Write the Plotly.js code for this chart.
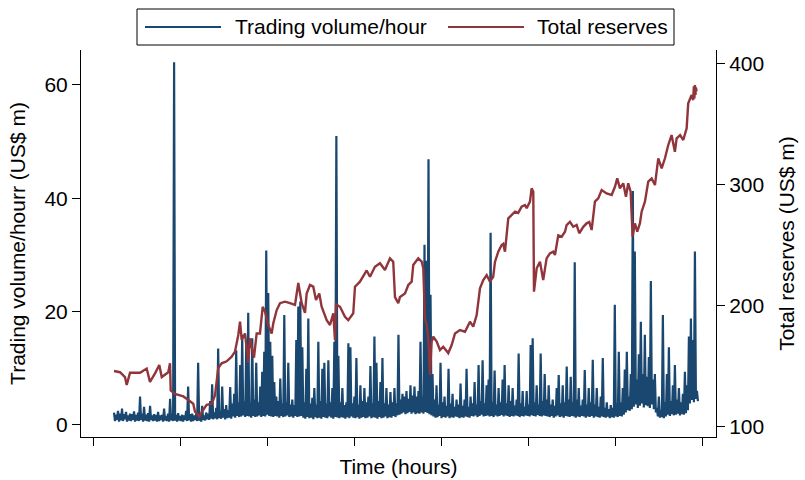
<!DOCTYPE html>
<html>
<head>
<meta charset="utf-8">
<script src="https://cdn.plot.ly/plotly-3.0.1.min.js"></script>
<style>html,body{margin:0;padding:0;background:#fff;}#chart{width:805px;height:480px;}</style>
</head>
<body>
<div id="chart"></div>
<script>
// ---- Data ----
// Trading volume per hour (US$ m). The hourly series is dense, so it is read as
// alternating local peaks and troughs: one peak every 23 hours starting at hour 241,
// each followed 11.5 hours later by the trough (lower edge of the band) there.
const volStartHour = 241;
const volStepHours = 23;
const volPeaks = [
  2.2,1.8,2.5,2.0,2.9,1.9,2.3,1.7,2.0,1.9,
  2.4,1.8,2.2,5.0,2.0,3.2,1.8,2.1,3.4,1.7,
  1.9,1.8,2.3,1.7,1.8,2.9,1.6,2.0,4.6,1.9,
  64,1.8,2.1,1.6,1.8,1.7,2.5,6.8,1.9,2.0,
  1.7,1.9,11.0,1.8,3.4,1.7,2.2,2.0,4.2,7.2,
  2.2,3.0,13.5,2.5,6.8,2.8,3.5,2.6,6.7,3.8,
  5.5,13.2,4.0,10.6,15.9,4.2,14.1,19.8,4.0,15.3,
  4.5,11.0,4.0,6.8,9.4,12.9,30.8,23.3,14.7,12.2,
  7.6,5.0,4.2,8.2,3.8,19.4,4.0,11.0,3.6,4.5,
  3.5,15.0,20.9,21.8,13.7,4.0,9.9,18.8,3.8,4.8,
  6.5,3.6,14.7,4.2,9.9,11.0,3.8,11.4,4.0,6.5,
  14.7,51.0,12.2,4.0,6.5,3.5,4.0,14.4,13.7,3.8,
  5.0,11.8,3.6,7.0,4.2,6.5,4.0,5.0,10.4,3.8,
  15.6,11.0,4.2,7.6,11.8,3.8,6.5,3.6,5.8,4.0,
  6.5,3.8,15.9,4.5,5.5,5.0,6.0,4.6,7.0,5.2,
  6.8,5.0,6.0,14.7,5.0,31.8,29.0,46.9,23.0,9.0,
  4.5,7.0,3.6,11.0,4.0,5.0,3.4,9.9,3.8,5.5,
  3.2,4.5,3.6,7.3,3.4,4.5,9.9,3.2,5.0,3.8,
  7.6,3.6,10.6,4.2,11.4,3.8,7.0,8.0,33.9,4.0,
  9.6,3.6,6.5,4.0,8.0,10.6,3.8,7.0,4.2,6.5,
  3.4,4.5,12.6,3.8,6.0,3.2,6.0,3.6,14.1,15.3,
  4.0,7.0,3.6,12.6,4.2,9.0,4.5,7.0,3.6,4.5,
  3.4,6.5,8.8,3.8,7.0,4.0,10.3,4.5,8.5,4.0,
  28.7,4.5,6.5,3.4,4.5,9.7,3.6,6.5,4.0,11.5,
  3.6,6.5,3.2,5.0,11.8,3.0,4.0,2.8,3.5,3.0,
  21.2,3.8,12.9,4.0,6.5,9.8,12.9,5.0,9.0,41.3,
  30.6,8.0,12.5,18.2,9.0,15.9,8.5,12.0,25.4,8.0,
  9.0,3.0,5.0,2.6,19.4,4.0,9.0,13.7,4.2,7.0,
  10.6,4.5,6.5,4.0,5.5,9.4,7.0,15.6,18.8,15.0,
  30.6,6.0
];
const volTroughs = [
  0.7,0.9,0.6,0.8,0.7,1.0,0.6,0.8,0.7,0.9,
  0.6,0.8,0.7,0.9,0.6,0.8,0.7,0.6,0.9,0.7,
  0.8,0.6,0.7,0.9,0.6,0.8,0.7,0.6,0.8,0.7,
  0.8,0.6,0.8,0.7,0.6,0.9,0.7,0.8,0.6,0.7,
  0.9,0.7,0.8,0.6,0.9,0.8,1.0,0.9,1.1,1.0,
  1.2,1.0,1.2,1.1,1.3,1.0,1.2,1.3,1.1,1.5,
  1.3,1.6,1.4,1.5,1.7,1.4,1.6,1.5,1.3,1.6,
  1.4,1.5,1.7,1.4,1.6,1.5,1.8,1.6,1.5,1.4,
  1.6,1.5,1.3,1.6,1.4,1.5,1.7,1.4,1.5,1.3,
  1.6,1.4,1.5,1.6,1.3,1.1,1.4,1.2,1.3,1.0,
  1.4,1.2,1.3,1.1,1.4,1.3,1.2,1.5,1.3,1.1,
  1.4,1.3,1.2,1.4,1.3,1.1,1.4,1.2,1.5,1.3,
  1.2,1.4,1.1,1.3,1.4,1.2,1.3,1.5,1.2,1.4,
  1.3,1.1,1.4,1.2,1.3,1.5,1.2,1.4,1.3,1.6,
  1.4,1.7,1.8,2.0,2.2,1.9,2.1,2.3,2.0,2.2,
  1.9,2.1,2.0,2.2,2.0,2.3,2.1,1.9,1.7,1.5,
  1.3,1.4,1.6,1.2,1.4,1.3,1.5,1.2,1.4,1.3,
  1.5,1.4,1.2,1.4,1.3,1.5,1.4,1.3,1.6,1.5,
  1.7,1.4,1.6,1.8,1.5,1.6,1.7,1.5,1.6,1.4,
  1.7,1.5,1.6,1.8,1.5,1.7,1.6,1.4,1.6,1.5,
  1.7,1.6,1.4,1.6,1.5,1.7,1.6,1.5,1.7,1.6,
  1.5,1.8,1.6,1.5,1.7,1.6,1.5,1.4,1.6,1.3,
  1.5,1.7,1.4,1.5,1.3,1.6,1.5,1.4,1.6,1.5,
  1.3,1.5,1.4,1.6,1.5,1.3,1.5,1.4,1.6,1.3,
  1.5,1.4,1.3,1.5,1.4,1.3,1.5,1.2,1.4,1.3,
  1.5,1.4,1.6,1.5,1.8,2.2,2.6,2.5,2.8,3.2,
  3.6,3.0,3.4,3.8,3.1,3.5,3.3,3.0,3.6,2.8,
  2.2,1.5,1.3,1.4,1.2,1.5,1.8,1.6,1.9,1.7,
  1.8,2.0,1.7,1.9,1.8,2.1,2.6,3.8,4.4,4.0,
  4.6,4.2
];

// Total reserves (US$ m)
const resHours = [
  241,310,367,387,425,540,616,654,712,761,
  789,864,884,892,941,1037,1094,1151,1171,1220,
  1266,1305,1363,1401,1438,1477,1535,1592,1630,1668,
  1688,1707,1745,1783,1802,1848,1879,1917,1948,1975,
  2012,2051,2070,2109,2147,2204,2262,2319,2357,2396,
  2434,2453,2491,2529,2560,2598,2625,2683,2721,2759,
  2778,2790,2836,2893,2931,2988,3008,3065,3142,3180,
  3237,3295,3352,3410,3447,3467,3505,3524,3582,3620,
  3659,3677,3734,3774,3792,3811,3831,3849,3869,3888,
  3907,3946,3984,4021,4079,4118,4156,4213,4271,4328,
  4366,4405,4443,4481,4520,4558,4595,4615,4653,4692,
  4710,4730,4768,4807,4845,4882,4921,4959,4979,5017,
  5036,5055,5063,5094,5132,5169,5208,5246,5284,5304,
  5342,5381,5419,5438,5476,5514,5553,5583,5629,5668,
  5698,5725,5763,5801,5840,5897,5955,5993,6019,6050,
  6088,6119,6145,6173,6196,6222,6249,6280,6299,6337,
  6375,6414,6452,6490,6529,6567,6605,6643,6681,6701,
  6741,6777,6816,6834,6873,6891,6899,6905,6911,6917,
  6922,6930
];
const resValues = [
  146,145,141,134.5,144.6,144.6,148,137,144,151,
  141,145,152.3,130,127,125,122,119,112.4,108.3,
  114,118,119,126,148.5,152.3,154,157.8,162,175.7,
  186.7,171.6,177,153,173,157,177,177,199,195,
  184,177,185.4,196.3,202,203.2,202,200.5,218.6,202,
  194,210,217,215.6,204.6,210,199,188,184,193.6,
  171.6,201,199,190.8,188,193.6,215.6,219.7,229,223.8,
  232,235,229.4,239,236.2,207,202,207,210,217,
  219.7,233.5,239,236.2,230.8,189.7,184,173,142.7,170.2,
  174.3,170.2,163.3,166,160.8,167.4,177,179.8,178.4,186.7,
  182.6,192.2,214.3,221,225.2,219.7,223.8,236,244.5,250,
  251,244.5,272,274.8,277.5,276.5,281.6,283,280.3,285.8,
  296.8,294,211.5,230.8,236.2,221,239,243.1,244.5,241.7,
  258,256.9,261,266.5,269.2,265.1,266.5,259.7,265,267.9,
  269,262.4,285.8,288.5,295.4,292.6,291.3,298.1,305,296.8,
  300.9,289.9,301,294,256.9,267.9,261,268,277.5,285.8,
  302.3,305,299.5,321.6,313.3,321.6,332.6,340.8,327,338,
  340.8,336.7,346.3,367,373.8,369.7,381,371,382,374,
  380,377
];

const volTicks = [0, 20, 40, 60];
const resTicks = [100, 200, 300, 400];
const seriesNames = ['Trading volume/hour', 'Total reserves'];
const xTitle = 'Time (hours)';
const yTitle = 'Trading volume/hourr (US$ m)';
const y2Title = 'Total reserves (US$ m)';

// build the volume table: peak, then trough half a step later
const volX = [], volY = [];
volPeaks.forEach((p, i) => {
  const t = volStartHour + i * volStepHours;
  volX.push(t); volY.push(p);
  volX.push(t + volStepHours / 2); volY.push(volTroughs[i]);
});

// ---- Styling ----
const FONT = 'Liberation Sans, Arial, Helvetica, sans-serif';
const BLUE = '#1a476f';
const RED = '#90353b';

const traces = [
  {x: volX, y: volY, type: 'scatter', mode: 'lines', name: seriesNames[0],
   line: {color: BLUE, width: 2.2}, yaxis: 'y'},
  {x: resHours, y: resValues, type: 'scatter', mode: 'lines', name: seriesNames[1],
   line: {color: RED, width: 2.4}, yaxis: 'y2'}
];

const axisCommon = {
  ticks: 'outside', ticklen: 8, tickwidth: 1, tickcolor: 'black',
  showline: true, linecolor: 'black', linewidth: 1,
  showgrid: false, zeroline: false,
  tickfont: {family: FONT, size: 21, color: 'black'}
};

// legend drawn in paper coordinates
const P = (px) => (px - 81) / 635;
const Q = (py) => (437 - py) / 387;

const layout = {
  width: 805, height: 480,
  margin: {l: 81, r: 89, t: 50, b: 43, pad: 0},
  paper_bgcolor: 'white', plot_bgcolor: 'white',
  font: {family: FONT, size: 21, color: 'black'},
  showlegend: false,
  xaxis: Object.assign({}, axisCommon, {
    range: [-138, 7153], tickmode: 'linear', tick0: 0, dtick: 1000,
    showticklabels: false,
    title: {text: xTitle, font: {family: FONT, size: 21, color: 'black'}, standoff: 14}
  }),
  yaxis: Object.assign({}, axisCommon, {
    range: [-2.12, 66.17], tickmode: 'array', tickvals: volTicks,
    title: {text: yTitle, font: {family: FONT, size: 21, color: 'black'}, standoff: 13}
  }),
  yaxis2: Object.assign({}, axisCommon, {
    range: [91.5, 411], tickmode: 'array', tickvals: resTicks,
    overlaying: 'y', side: 'right',
    title: {text: y2Title, font: {family: FONT, size: 21, color: 'black'}, standoff: 16}
  }),
  shapes: [
    {type: 'rect', xref: 'paper', yref: 'paper', x0: P(137), x1: P(674), y0: Q(45), y1: Q(9),
     line: {color: 'black', width: 1}, fillcolor: 'white', layer: 'above'},
    {type: 'line', xref: 'paper', yref: 'paper', x0: P(145), x1: P(221), y0: Q(27), y1: Q(27),
     line: {color: BLUE, width: 2}},
    {type: 'line', xref: 'paper', yref: 'paper', x0: P(448), x1: P(524), y0: Q(27), y1: Q(27),
     line: {color: RED, width: 2}}
  ],
  annotations: [
    {xref: 'paper', yref: 'paper', x: P(233), y: Q(27), text: seriesNames[0], showarrow: false,
     xanchor: 'left', yanchor: 'middle', font: {family: FONT, size: 21, color: 'black'}},
    {xref: 'paper', yref: 'paper', x: P(535), y: Q(27), text: seriesNames[1], showarrow: false,
     xanchor: 'left', yanchor: 'middle', font: {family: FONT, size: 21, color: 'black'}}
  ]
};

Plotly.newPlot('chart', traces, layout, {staticPlot: true, displayModeBar: false});
</script>
</body>
</html>
